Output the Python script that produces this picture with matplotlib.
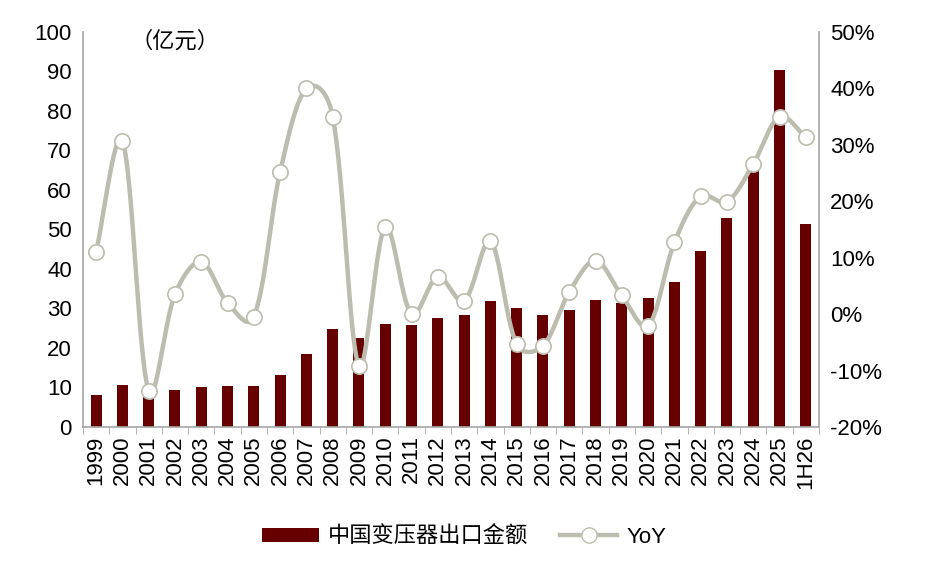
import numpy as np
import matplotlib
matplotlib.use("Agg")
import matplotlib.pyplot as plt
from matplotlib.patches import Patch
from matplotlib.lines import Line2D

plt.rcParams['font.family'] = ['Liberation Sans', 'Noto Sans CJK SC', 'DejaVu Sans']

# 数据
jaren = ['1999', '2000', '2001', '2002', '2003', '2004', '2005', '2006', '2007', '2008',
         '2009', '2010', '2011', '2012', '2013', '2014', '2015', '2016', '2017', '2018',
         '2019', '2020', '2021', '2022', '2023', '2024', '2025', '1H26']
exportBedrag = [8.1, 10.6, 7.6, 9.4, 10.2, 10.5, 10.4, 13.1, 18.4, 24.8,
                22.5, 26.0, 25.9, 27.6, 28.4, 31.9, 30.0, 28.4, 29.5, 32.2,
                31.5, 32.6, 36.7, 44.5, 52.9, 65.0, 90.4, 51.4]
yoy = [11.0, 30.7, -13.6, 3.5, 9.3, 2.0, -0.5, 25.2, 40.0, 35.0,
       -9.2, 15.5, 0.0, 6.6, 2.3, 12.9, -5.3, -5.6, 3.9, 9.5,
       3.3, -2.1, 12.7, 20.9, 19.9, 26.6, 35.0, 31.3]

BARKLEUR = '#660000'
LIJNKLEUR = '#BDBDAF'
ASKLEUR = '#A6A6A6'


def gladdeLijn(as_, x, y, stappen=30):
    """Excel-achtige gladde lijn: Bezier-segmenten; controlepunten half vast (1/6),
       half gewogen naar de segmentlengte in pixels."""
    pix = as_.transData.transform(np.column_stack([x, y]))
    n = len(pix)
    uit = []
    for i in range(n - 1):
        p0 = pix[max(i - 1, 0)]
        p1 = pix[i]
        p2 = pix[i + 1]
        p3 = pix[min(i + 2, n - 1)]
        d01 = np.linalg.norm(p1 - p0)
        d12 = np.linalg.norm(p2 - p1)
        d23 = np.linalg.norm(p3 - p2)
        f1 = d12 / (d01 + d12) / 3 if d01 + d12 > 0 else 0
        f2 = d12 / (d12 + d23) / 3 if d12 + d23 > 0 else 0
        f1 = 0.5 * f1 + 0.5 / 6
        f2 = 0.5 * f2 + 0.5 / 6
        c1 = p1 + (p2 - p0) * f1
        c2 = p2 - (p3 - p1) * f2
        t = np.linspace(0, 1, stappen)[:, None]
        uit.append(((1 - t) ** 3) * p1 + 3 * ((1 - t) ** 2) * t * c1 + 3 * (1 - t) * t ** 2 * c2 + t ** 3 * p2)
    data = as_.transData.inverted().transform(np.vstack(uit))
    return data[:, 0], data[:, 1]


fig = plt.figure(figsize=(9.28, 5.69), dpi=100)
ax = fig.add_axes([0.0894, 0.2496, 0.7931, 0.6942])
x = np.arange(len(jaren))

ax.bar(x, exportBedrag, width=0.42, color=BARKLEUR, zorder=2)
ax.set_xlim(-0.5, len(jaren) - 0.5)
ax.set_ylim(0, 100)
ax.set_yticks(np.arange(0, 101, 10))
ax.tick_params(axis='y', length=0, labelsize=16, pad=8)
ax.set_xticks(x)
ax.set_xticklabels(jaren, rotation=90, fontsize=16)
ax.set_xticks(np.arange(-0.5, len(jaren), 1), minor=True)
ax.tick_params(axis='x', which='major', length=0, pad=6)
ax.tick_params(axis='x', which='minor', length=5, color=ASKLEUR, direction='out')
for zijde in ['top', 'right']:
    ax.spines[zijde].set_visible(False)
for zijde in ['left', 'bottom']:
    ax.spines[zijde].set_color(ASKLEUR)
    ax.spines[zijde].set_linewidth(1.2)

ax.text(0.064, 0.975, '（亿元）', transform=ax.transAxes, fontsize=16, va='center', ha='left')

ax2 = ax.twinx()
ax2.set_xlim(-0.5, len(jaren) - 0.5)
ax2.set_ylim(-20, 50)
gx, gy = gladdeLijn(ax2, x, yoy)
ax2.plot(gx, gy, color=LIJNKLEUR, linewidth=3.2, zorder=3, solid_capstyle='round')
ax2.plot(x, yoy, linestyle='none', marker='o', markersize=11, markerfacecolor='white',
         markeredgecolor=LIJNKLEUR, markeredgewidth=1.2, zorder=4)
ax2.set_yticks(np.arange(-20, 51, 10))
ax2.set_yticklabels([f"{v}%" for v in range(-20, 51, 10)])
ax2.tick_params(axis='y', length=0, labelsize=16, pad=8)
for zijde in ['top', 'left', 'bottom']:
    ax2.spines[zijde].set_visible(False)
ax2.spines['right'].set_color(ASKLEUR)
ax2.spines['right'].set_linewidth(1.2)

legenda = [Patch(facecolor=BARKLEUR, label='中国变压器出口金额'),
           Line2D([0], [0], color=LIJNKLEUR, linewidth=3.2, marker='o', markersize=11,
                  markerfacecolor='white', markeredgecolor=LIJNKLEUR, label='YoY')]
fig.legend(handles=legenda, loc='center', bbox_to_anchor=(0.5, 0.056), ncol=2, frameon=False,
           fontsize=16, handlelength=2.6, handleheight=0.6, columnspacing=1.4, handletextpad=0.4)

fig.savefig('out.png', dpi=100)
